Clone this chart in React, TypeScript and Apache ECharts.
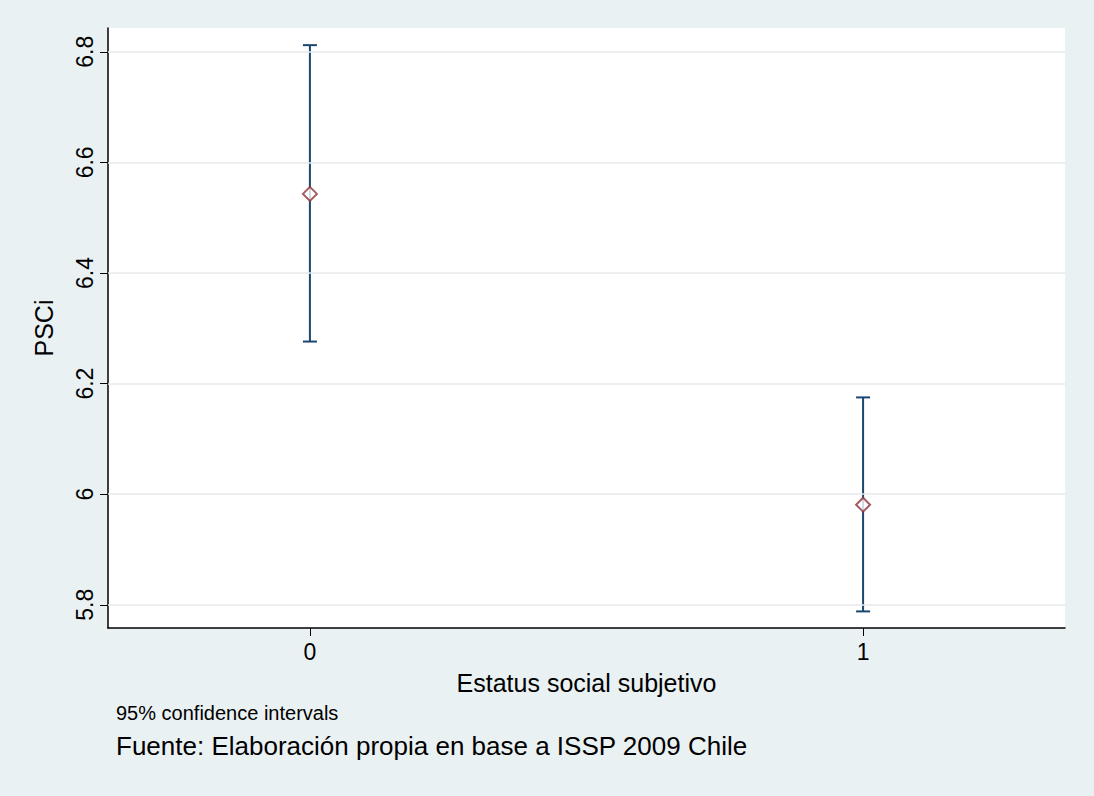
import React, { useEffect, useRef } from "react";
import * as echarts from "echarts";

const groups = [0, 1];
const means = [6.543, 5.981];
const lower = [6.276, 5.788];
const upper = [6.812, 6.175];
const yTicks = [5.8, 6, 6.2, 6.4, 6.6, 6.8];

const App = () => {
  const ref = useRef<HTMLDivElement>(null);

  useEffect(() => {
    if (!ref.current) return;
    const chart = echarts.init(ref.current, undefined, { renderer: "svg" });
    const font = "Liberation Sans, Arial, sans-serif";

    const option: echarts.EChartsOption = {
      animation: false,
      backgroundColor: "#eaf1f3",
      grid: {
        left: 108,
        right: 29,
        top: 28,
        bottom: 168,
        show: true,
        backgroundColor: "#ffffff",
        borderWidth: 0,
      },
      xAxis: {
        type: "value",
        min: -0.365,
        max: 1.365,
        name: "Estatus social subjetivo",
        nameLocation: "middle",
        nameGap: 42,
        nameTextStyle: { color: "#000", fontSize: 25, fontFamily: font },
        axisLine: { show: true, onZero: false, lineStyle: { color: "#000", width: 1.5 } },
        axisTick: { show: true, length: 8, lineStyle: { color: "#000" }, customValues: groups },
        axisLabel: { color: "#000", fontSize: 23, fontFamily: font, margin: 12, customValues: groups },
        splitLine: { show: false },
      },
      yAxis: {
        type: "value",
        min: 5.758,
        max: 6.843,
        name: "PSCi",
        nameLocation: "middle",
        nameGap: 52,
        nameTextStyle: { color: "#000", fontSize: 25, fontFamily: font },
        axisLine: { show: true, onZero: false, lineStyle: { color: "#000", width: 1.5 } },
        axisTick: { show: true, length: 8, lineStyle: { color: "#000" }, customValues: yTicks },
        axisLabel: {
          color: "#000",
          fontSize: 23,
          fontFamily: font,
          rotate: 90,
          margin: 12,
          customValues: yTicks,
          formatter: (v: number) => String(Math.round(v * 10) / 10),
        },
        splitLine: { show: false },
      },
      graphic: [
        { type: "text", left: 116, top: 703, style: { text: "95% confidence intervals", fontSize: 20, fontFamily: font, fill: "#000" } },
        { type: "text", left: 116, top: 733, style: { text: "Fuente: Elaboración propia en base a ISSP 2009 Chile", fontSize: 26, fontFamily: font, fill: "#000" } },
      ],
      series: [
        {
          type: "line",
          data: [],
          markLine: {
            silent: true,
            symbol: "none",
            label: { show: false },
            lineStyle: { color: "#e6e9ea", width: 1.5, type: "solid" },
            data: yTicks.map((v) => ({ yAxis: v })),
          },
        },
        {
          type: "custom",
          data: groups.map((g, i) => [g, lower[i], upper[i]]),
          renderItem: (params: any, api: any) => {
            const x = api.value(0);
            const lo = api.coord([x, api.value(1)]);
            const hi = api.coord([x, api.value(2)]);
            const w = 7;
            const style = { stroke: "#1a476f", lineWidth: 2 };
            return {
              type: "group",
              children: [
                { type: "line", shape: { x1: lo[0], y1: lo[1], x2: hi[0], y2: hi[1] }, style },
                { type: "line", shape: { x1: lo[0] - w, y1: lo[1], x2: lo[0] + w, y2: lo[1] }, style },
                { type: "line", shape: { x1: hi[0] - w, y1: hi[1], x2: hi[0] + w, y2: hi[1] }, style },
              ],
            };
          },
          z: 3,
        },
        {
          type: "scatter",
          data: groups.map((g, i) => [g, means[i]]),
          symbol: "diamond",
          symbolSize: [14, 14],
          itemStyle: { color: "#ffffff", borderColor: "#90353b", borderWidth: 2 },
          z: 4,
        },
      ],
    };

    chart.setOption(option);
    return () => chart.dispose();
  }, []);

  return <div ref={ref} style={{ position: "absolute", left: 0, top: 0, width: 1094, height: 796 }} />;
};

export default App;
